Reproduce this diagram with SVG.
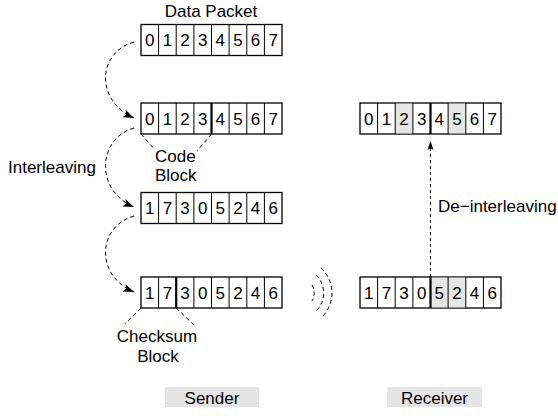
<svg xmlns="http://www.w3.org/2000/svg" width="558" height="416" viewBox="0 0 558 416">
<style>
text{font-family:"Liberation Sans",Arial,sans-serif;font-size:17px;fill:#000}
.d{text-anchor:middle}
.box{fill:#fff;stroke:#000;stroke-width:1.3}
.sh{fill:#e6e6e6;stroke:none}
.div{stroke:#000;stroke-width:1}
.thk{stroke:#000;stroke-width:2.2}
.dash{fill:none;stroke:#000;stroke-width:1;stroke-dasharray:4,3}
.lab{fill:#e5e5e5;stroke:none}
</style>
<defs>
<marker id="ah" markerUnits="userSpaceOnUse" markerWidth="12" markerHeight="10" viewBox="0 0 12 10" refX="11" refY="5" orient="auto">
<path d="M0,1 L11,5 L0,9 L2.5,5 Z" fill="#000"/>
</marker>
<marker id="ah2" markerUnits="userSpaceOnUse" markerWidth="10" markerHeight="8" viewBox="0 0 10 8" refX="9" refY="4" orient="auto">
<path d="M0,1 L9,4 L0,7 L2,4 Z" fill="#000"/>
</marker>
</defs>

<text x="211" y="17" class="d">Data Packet</text>

<g id="sender-row1">
<rect class="box" x="141" y="24.5" width="141" height="31"/>
<path class="div" d="M158.6,24.5V55.5M176.2,24.5V55.5M193.9,24.5V55.5M211.5,24.5V55.5M229.1,24.5V55.5M246.8,24.5V55.5M264.4,24.5V55.5"/>
<text class="d" y="46"><tspan x="149.8">0</tspan><tspan x="167.4">1</tspan><tspan x="185.1">2</tspan><tspan x="202.7">3</tspan><tspan x="220.3">4</tspan><tspan x="237.9">5</tspan><tspan x="255.6">6</tspan><tspan x="273.2">7</tspan></text>
</g>

<g id="sender-row2">
<rect class="box" x="141" y="103" width="141" height="31"/>
<path class="div" d="M158.6,103V134M176.2,103V134M193.9,103V134M229.1,103V134M246.8,103V134M264.4,103V134"/>
<path class="thk" d="M211.5,103V134"/>
<text class="d" y="124.5"><tspan x="149.8">0</tspan><tspan x="167.4">1</tspan><tspan x="185.1">2</tspan><tspan x="202.7">3</tspan><tspan x="220.3">4</tspan><tspan x="237.9">5</tspan><tspan x="255.6">6</tspan><tspan x="273.2">7</tspan></text>
</g>

<g id="code-block">
<path class="dash" d="M141,134 L155,150 M211.5,134 L197,151"/>
<text x="155" y="162">Code</text>
<text x="155" y="181">Block</text>
</g>

<g id="sender-row3">
<rect class="box" x="141" y="192.5" width="141" height="31"/>
<path class="div" d="M158.6,192.5V223.5M176.2,192.5V223.5M193.9,192.5V223.5M211.5,192.5V223.5M229.1,192.5V223.5M246.8,192.5V223.5M264.4,192.5V223.5"/>
<text class="d" y="214"><tspan x="149.8">1</tspan><tspan x="167.4">7</tspan><tspan x="185.1">3</tspan><tspan x="202.7">0</tspan><tspan x="220.3">5</tspan><tspan x="237.9">2</tspan><tspan x="255.6">4</tspan><tspan x="273.2">6</tspan></text>
</g>

<g id="sender-row4">
<rect class="box" x="141" y="277" width="141" height="31"/>
<path class="div" d="M158.6,277V308M193.9,277V308M211.5,277V308M229.1,277V308M246.8,277V308M264.4,277V308"/>
<path class="thk" d="M176.2,277V308"/>
<text class="d" y="298.5"><tspan x="149.8">1</tspan><tspan x="167.4">7</tspan><tspan x="185.1">3</tspan><tspan x="202.7">0</tspan><tspan x="220.3">5</tspan><tspan x="237.9">2</tspan><tspan x="255.6">4</tspan><tspan x="273.2">6</tspan></text>
</g>

<g id="checksum-block">
<path class="dash" d="M141,308 L125,324 M176.2,308 L195,326"/>
<text x="157" y="342" class="d">Checksum</text>
<text x="158" y="362" class="d">Block</text>
</g>

<text x="8" y="173">Interleaving</text>

<g id="receiver-row1">
<rect class="box" x="360" y="103" width="141" height="31"/>
<rect class="sh" x="395.3" y="103.6" width="17.6" height="29.8"/>
<rect class="sh" x="448.1" y="103.6" width="17.6" height="29.8"/>
<path class="div" d="M377.6,103V134M395.2,103V134M412.9,103V134M448.1,103V134M465.8,103V134M483.4,103V134"/>
<path class="thk" d="M430.5,103V134"/>
<text class="d" y="124.5"><tspan x="368.8">0</tspan><tspan x="386.4">1</tspan><tspan x="404.1">2</tspan><tspan x="421.7">3</tspan><tspan x="439.3">4</tspan><tspan x="456.9">5</tspan><tspan x="474.6">6</tspan><tspan x="492.2">7</tspan></text>
</g>

<g id="receiver-row4">
<rect class="box" x="360" y="277" width="141" height="31"/>
<rect class="sh" x="430.5" y="277.6" width="35.2" height="29.8"/>
<path class="div" d="M377.6,277V308M395.2,277V308M412.9,277V308M448.1,277V308M465.8,277V308M483.4,277V308"/>
<path class="thk" d="M430.5,277V308"/>
<text class="d" y="298.5"><tspan x="368.8">1</tspan><tspan x="386.4">7</tspan><tspan x="404.1">3</tspan><tspan x="421.7">0</tspan><tspan x="439.3">5</tspan><tspan x="456.9">2</tspan><tspan x="474.6">4</tspan><tspan x="492.2">6</tspan></text>
</g>

<text x="438" y="212">De−interleaving</text>

<g id="waves">
<path class="dash" d="M312,285 A16,16 0 0 1 312,301"/>
<path class="dash" d="M316,275 A25,25 0 0 1 316,311"/>
<path class="dash" d="M321,268 A34,34 0 0 1 321,318"/>
</g>

<g id="connectors">
<path class="dash" d="M134,42 C98,52 94,100 134,118" marker-end="url(#ah)"/>
<path class="dash" d="M134,128 C98,138 94,190 134,207" marker-end="url(#ah)"/>
<path class="dash" d="M134,216 C98,226 94,275 134,292" marker-end="url(#ah)"/>
<path d="M430.5,277 V141" fill="none" stroke="#000" stroke-width="1" stroke-dasharray="3,3" marker-end="url(#ah2)"/>
</g>

<g id="sender">
<rect class="lab" x="165" y="387" width="94" height="20"/>
<text x="212" y="403.5" class="d">Sender</text>
</g>
<g id="receiver">
<rect class="lab" x="387" y="387" width="95" height="20"/>
<text x="434.5" y="403.5" class="d">Receiver</text>
</g>
</svg>
